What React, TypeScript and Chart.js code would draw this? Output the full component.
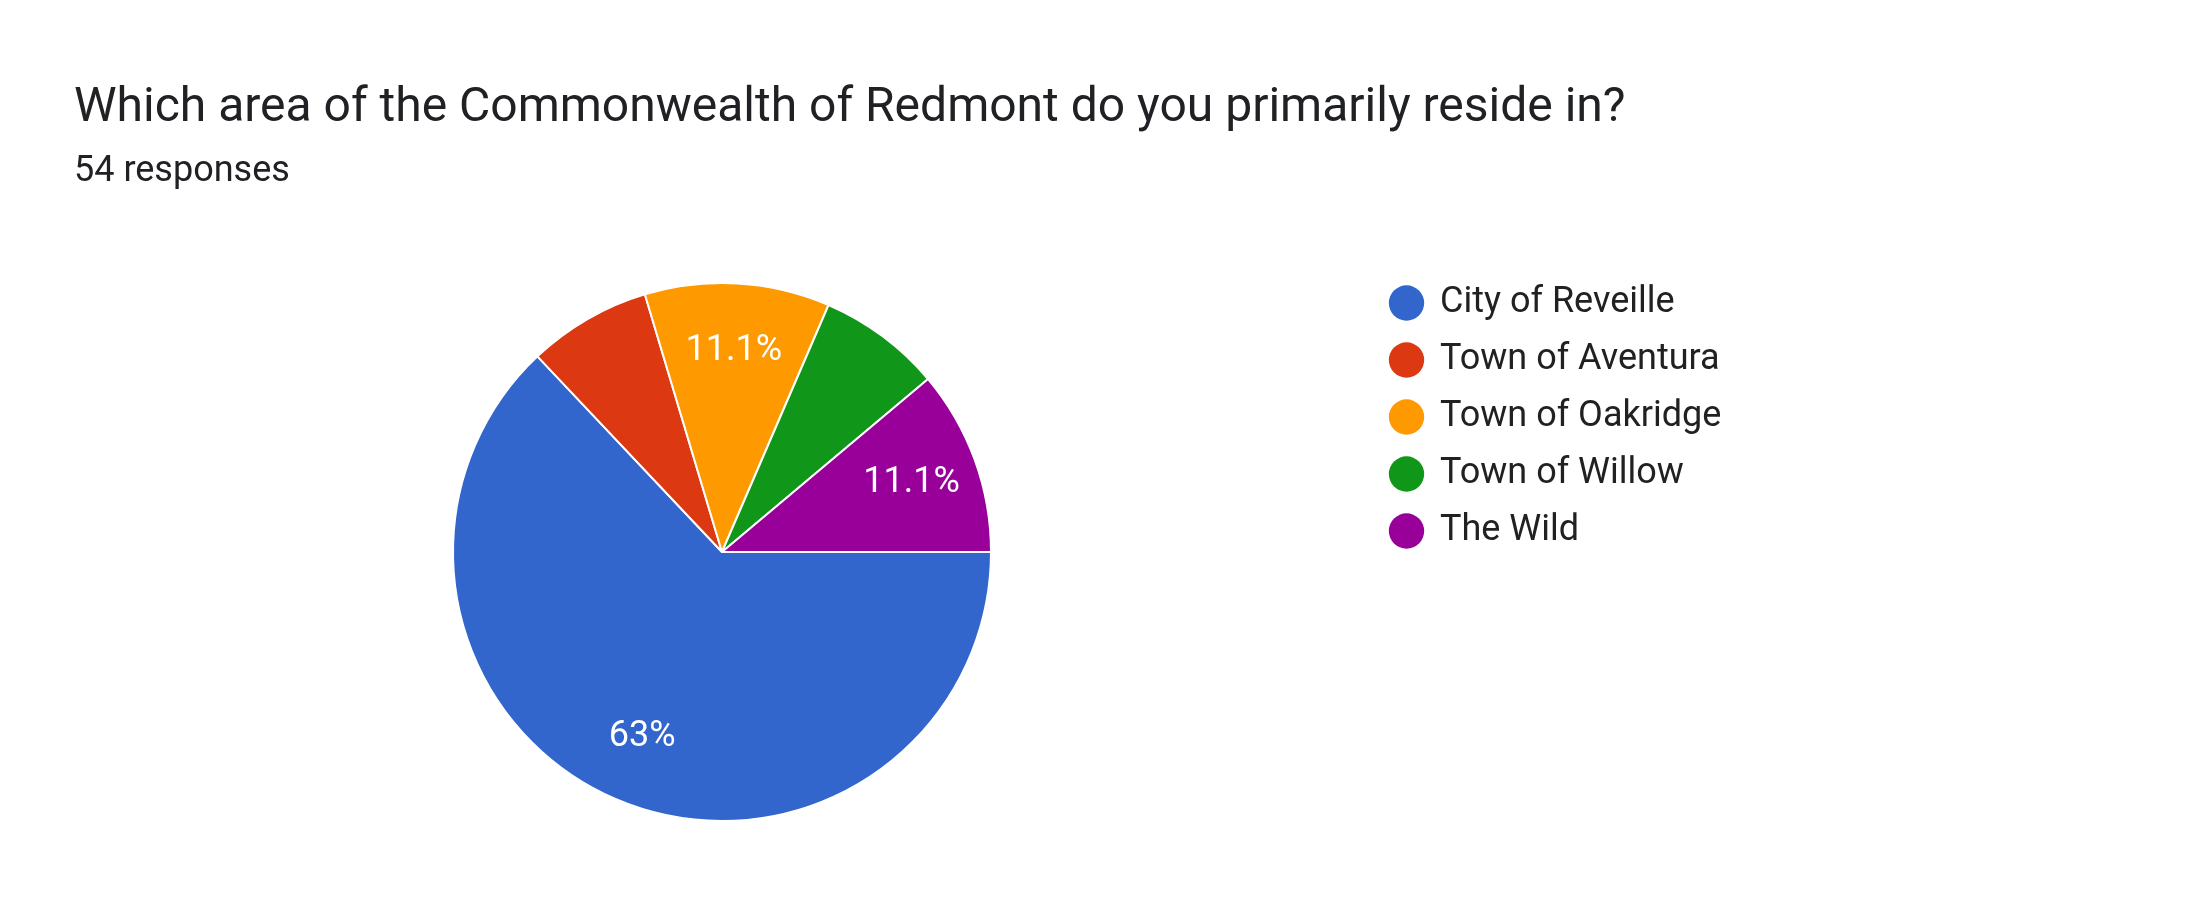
import React, { useEffect, useRef } from "react";
import { Chart, registerables } from "chart.js";

Chart.register(...registerables);

const TITLE = "Which area of the Commonwealth of Redmont do you primarily reside in?";
const SUBTITLE = "54 responses";
const categories = ["City of Reveille", "Town of Aventura", "Town of Oakridge", "Town of Willow", "The Wild"];
const responses = [34, 4, 6, 4, 6];
const sliceColors = ["#3366cc", "#dc3912", "#ff9900", "#109618", "#990099"];

function formatPct(p: number): string {
  const v = Math.round(p * 1000) / 10;
  return (Number.isInteger(v) ? v.toFixed(0) : v.toFixed(1)) + "%";
}

const sliceLabels = {
  id: "sliceLabels",
  afterDatasetsDraw(chart: any) {
    const meta = chart.getDatasetMeta(0);
    const data = chart.data.datasets[0].data as number[];
    const total = data.reduce((a, b) => a + b, 0);
    const ctx = chart.ctx as CanvasRenderingContext2D;
    ctx.save();
    ctx.font = "36px Roboto";
    ctx.fillStyle = "#ffffff";
    ctx.textAlign = "center";
    ctx.textBaseline = "middle";
    meta.data.forEach((arc: any, i: number) => {
      const p = data[i] / total;
      if (p < 0.1) return;
      const { x, y, startAngle, endAngle, outerRadius } = arc.getProps(
        ["x", "y", "startAngle", "endAngle", "outerRadius"],
        true
      );
      const mid = (startAngle + endAngle) / 2;
      const r = outerRadius * 0.75;
      ctx.fillText(formatPct(p), x + Math.cos(mid) * r, y + Math.sin(mid) * r);
    });
    ctx.restore();
  },
};

const LEGEND_FONT = 36;
const LEGEND_BOX_W = 31;
const LEGEND_BOX_H = 25;
const LEGEND_PAD = 21;
const LEGEND_LEFT = 1370;

export default function App() {
  const canvasRef = useRef<HTMLCanvasElement | null>(null);

  useEffect(() => {
    if (!canvasRef.current) return;
    Chart.defaults.font.family = "Roboto";
    const baseGen = (Chart as any).overrides.doughnut.plugins.legend.labels.generateLabels;

    const mctx = document.createElement("canvas").getContext("2d") as CanvasRenderingContext2D;
    mctx.font = `${LEGEND_FONT}px Roboto`;
    const maxText = Math.max(...categories.map((c) => mctx.measureText(c).width));
    const legendWidth = LEGEND_PAD + LEGEND_BOX_W + LEGEND_FONT / 2 + maxText + 10;
    const padRight = Math.max(0, 2196 - LEGEND_LEFT - legendWidth);

    const chart = new Chart(canvasRef.current, {
      type: "pie",
      data: {
        labels: categories,
        datasets: [
          {
            data: responses,
            backgroundColor: sliceColors,
            borderColor: "#ffffff",
            borderWidth: 2,
            radius: 269,
            hoverOffset: 0,
          } as any,
        ],
      },
      options: {
        animation: false,
        responsive: true,
        maintainAspectRatio: false,
        rotation: 90,
        layout: { padding: { top: 0, left: 74, right: padRight, bottom: 84 } },
        events: [],
        plugins: {
          title: {
            display: true,
            text: TITLE,
            align: "start",
            color: "#202124",
            font: { size: 48, weight: "normal", family: "Roboto" },
            padding: { top: 80, bottom: 0 },
          },
          subtitle: {
            display: true,
            text: SUBTITLE,
            align: "start",
            color: "#202124",
            font: { size: 36, weight: "normal", family: "Roboto" },
            padding: { top: 12.3, bottom: 70.9 },
          },
          legend: {
            display: true,
            position: "right",
            align: "start",
            fullSize: false,
            labels: {
              usePointStyle: true,
              pointStyle: "circle",
              boxWidth: LEGEND_BOX_W,
              boxHeight: LEGEND_BOX_H,
              padding: LEGEND_PAD,
              color: "#212121",
              font: { size: LEGEND_FONT, family: "Roboto" },
              generateLabels: (c: any) =>
                baseGen(c).map((l: any) => ({ ...l, lineWidth: 0, strokeStyle: l.fillStyle })),
            },
          },
          tooltip: { enabled: false },
        },
      } as any,
      plugins: [sliceLabels],
    });
    return () => chart.destroy();
  }, []);

  return (
    <div
      style={{
        position: "fixed",
        left: 0,
        top: 0,
        width: "2196px",
        height: "924px",
        background: "#ffffff",
      }}
    >
      <canvas ref={canvasRef} />
    </div>
  );
}
